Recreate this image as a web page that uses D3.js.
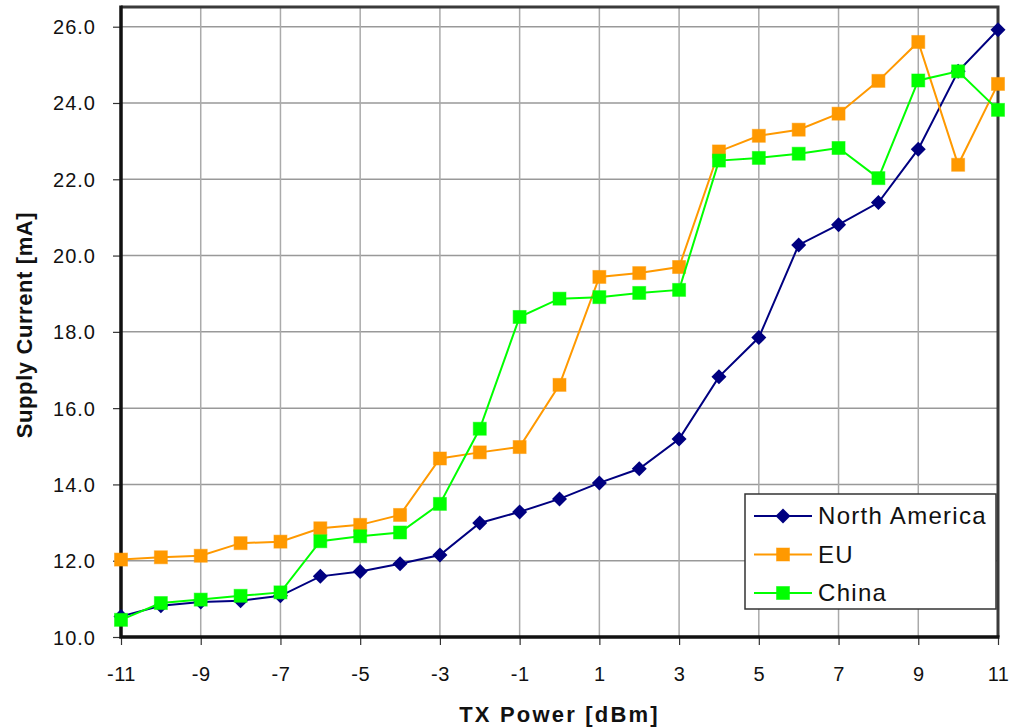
<!DOCTYPE html>
<html>
<head>
<meta charset="utf-8">
<script src="https://cdn.jsdelivr.net/npm/d3@7"></script>
<style>
  body { margin: 0; background: #fff; }
  svg { display: block; font-family: "Liberation Sans", Arial, sans-serif; }
</style>
</head>
<body>
<div id="chart"></div>
<script>
// chart data
const txPower = [-11, -10, -9, -8, -7, -6, -5, -4, -3, -2, -1, 0, 1, 2, 3, 4, 5, 6, 7, 8, 9, 10, 11];
const northAmerica = [10.54, 10.82, 10.92, 10.95, 11.08, 11.59, 11.72, 11.92, 12.15, 12.99, 13.28, 13.62,
  14.04, 14.41, 15.19, 16.82, 17.85, 20.28, 20.81, 21.39, 22.79, 24.83, 25.92];
const eu = [12.03, 12.09, 12.13, 12.46, 12.50, 12.85, 12.94, 13.20, 14.68, 14.84, 14.98, 16.61,
  19.44, 19.54, 19.70, 22.73, 23.14, 23.30, 23.72, 24.58, 25.60, 22.38, 24.50];
const china = [10.45, 10.89, 10.98, 11.08, 11.17, 12.51, 12.64, 12.74, 13.49, 15.46, 18.39, 18.87,
  18.91, 19.02, 19.10, 22.49, 22.56, 22.67, 22.82, 22.03, 24.59, 24.83, 23.82];
const xTicks = [-11, -9, -7, -5, -3, -1, 1, 3, 5, 7, 9, 11];
const yTicks = [10, 12, 14, 16, 18, 20, 22, 24, 26];
const seriesNames = ["North America", "EU", "China"];

const width = 1024;
const height = 727;

const series = [
  { name: seriesNames[0], values: northAmerica, color: "#000080", marker: "diamond" },
  { name: seriesNames[1], values: eu, color: "#FF9900", marker: "square" },
  { name: seriesNames[2], values: china, color: "#00FF00", marker: "square" }
];

const x = d3.scaleLinear().domain([-11, 11]).range([121, 998]);
const y = d3.scaleLinear().domain([10, 26]).range([637, 26.7]);
const plotTop = 7;

const svg = d3.select("#chart").append("svg")
  .attr("width", width)
  .attr("height", height);

// grid
svg.append("g").selectAll("line")
  .data(yTicks)
  .enter().append("line")
  .attr("x1", x(-11)).attr("x2", x(11))
  .attr("y1", d => y(d)).attr("y2", d => y(d))
  .attr("stroke", "#999").attr("stroke-width", 1.5);

svg.append("g").selectAll("line")
  .data(xTicks)
  .enter().append("line")
  .attr("x1", d => x(d)).attr("x2", d => x(d))
  .attr("y1", plotTop).attr("y2", y(10))
  .attr("stroke", "#aaa").attr("stroke-width", 1.5);

// frame: top/right dark gray, left/bottom are the axes
svg.append("path")
  .attr("d", `M${x(-11)},${plotTop}H${x(11)}V${y(10)}`)
  .attr("fill", "none").attr("stroke", "#3a3a3a").attr("stroke-width", 3);

// axes
const yAxis = d3.axisLeft(y).tickValues(yTicks).tickSize(8).tickFormat(d3.format(".1f"));
const xAxis = d3.axisBottom(x).tickValues(xTicks).tickSize(8).tickFormat(d3.format("d"));

const gy = svg.append("g").attr("transform", `translate(${x(-11)},0)`).call(yAxis);
gy.select(".domain").remove();
gy.selectAll(".tick line").attr("stroke", "#333").attr("stroke-width", 1.2);
gy.selectAll(".tick text")
  .attr("x", -25).attr("dy", "0.35em")
  .attr("font-size", 20).attr("letter-spacing", 1).attr("fill", "#111")
  .attr("font-family", "Liberation Sans, Arial, sans-serif");

const gx = svg.append("g").attr("transform", `translate(0,${y(10)})`).call(xAxis);
gx.select(".domain").remove();
gx.selectAll(".tick line").attr("stroke", "#333").attr("stroke-width", 1.2);
gx.selectAll(".tick text")
  .attr("y", 44).attr("dy", 0)
  .attr("font-size", 20).attr("letter-spacing", 0.5).attr("fill", "#111")
  .attr("font-family", "Liberation Sans, Arial, sans-serif")
  .text(d => d < 0 ? "-" + Math.abs(d) : d);

svg.append("path")
  .attr("d", `M${x(-11)},${plotTop - 1.5}V${y(10)}H${x(11) + 1.5}`)
  .attr("fill", "none").attr("stroke", "#111").attr("stroke-width", 3.5);

// axis titles
svg.append("text")
  .attr("x", x(0)).attr("y", 722)
  .attr("text-anchor", "middle")
  .attr("font-size", 22).attr("font-weight", "bold").attr("letter-spacing", 2.2)
  .attr("fill", "#111")
  .text("TX Power [dBm]");

svg.append("text")
  .attr("transform", `translate(32,${(plotTop + y(10)) / 2 + 3}) rotate(-90)`)
  .attr("text-anchor", "middle")
  .attr("font-size", 22).attr("font-weight", "bold").attr("letter-spacing", 0.6)
  .attr("fill", "#111")
  .text("Supply Current [mA]");

// series
const line = d3.line()
  .x((d, i) => x(txPower[i]))
  .y(d => y(d));

function drawMarker(g, type, color) {
  if (type === "diamond") {
    g.append("path").attr("d", "M0,-7.5L7.5,0L0,7.5L-7.5,0Z").attr("fill", color);
  } else {
    g.append("rect").attr("x", -6.5).attr("y", -6.5).attr("width", 13).attr("height", 13)
      .attr("fill", color).attr("stroke", color).attr("stroke-opacity", 0.5).attr("stroke-width", 1);
  }
}

series.forEach(function (s) {
  const g = svg.append("g");
  g.append("path")
    .datum(s.values)
    .attr("d", line)
    .attr("fill", "none")
    .attr("stroke", s.color)
    .attr("stroke-width", 2);
  g.selectAll("g.pt")
    .data(s.values)
    .enter().append("g")
    .attr("class", "pt")
    .attr("transform", (d, i) => `translate(${x(txPower[i])},${y(d)})`)
    .each(function () { drawMarker(d3.select(this), s.marker, s.color); });
});

// legend
const legend = svg.append("g").attr("transform", "translate(745,494)");
legend.append("rect")
  .attr("width", 251).attr("height", 115)
  .attr("fill", "#fff").attr("stroke", "#333").attr("stroke-width", 1.5);

series.forEach(function (s, i) {
  const row = legend.append("g").attr("transform", `translate(0,${22 + i * 38.5})`);
  row.append("line")
    .attr("x1", 9).attr("x2", 67).attr("y1", 0).attr("y2", 0)
    .attr("stroke", s.color).attr("stroke-width", 2);
  drawMarker(row.append("g").attr("transform", "translate(38,0)"), s.marker, s.color);
  row.append("text")
    .attr("x", 73).attr("dy", "0.35em")
    .attr("font-size", 24).attr("letter-spacing", 1.3).attr("fill", "#111")
    .text(s.name);
});
</script>
</body>
</html>
